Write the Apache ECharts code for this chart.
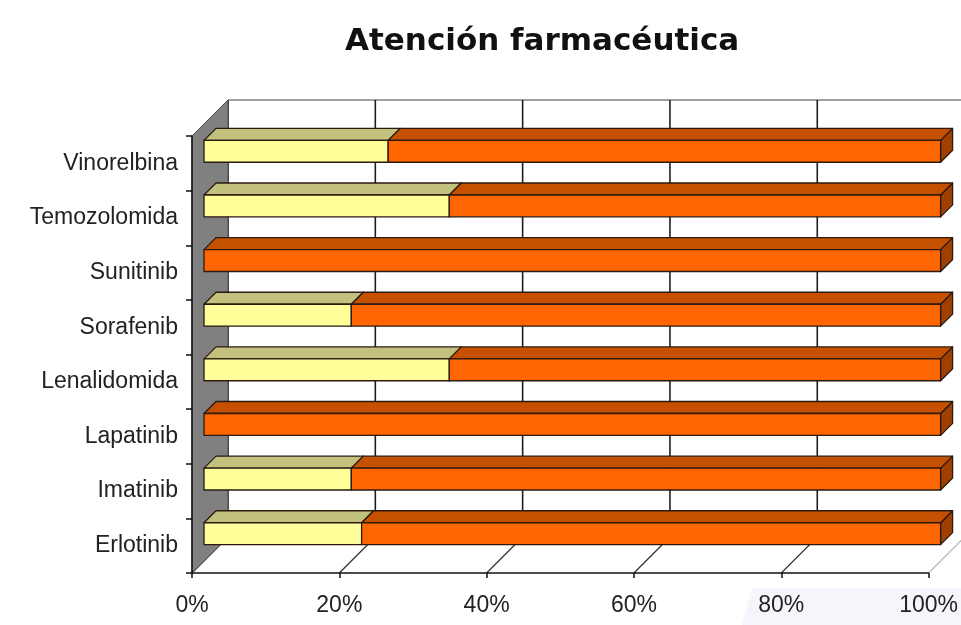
<!DOCTYPE html>
<html>
<head>
<meta charset="utf-8">
<script src="https://cdn.jsdelivr.net/npm/echarts@6/dist/echarts.min.js"></script>
<style>
html,body{margin:0;padding:0;background:#ffffff;}
#chart{width:961px;height:625px;}
</style>
</head>
<body>
<div id="chart"></div>
<script>
// ---- data ----
const categories = ['Erlotinib', 'Imatinib', 'Lapatinib', 'Lenalidomida', 'Sorafenib', 'Sunitinib', 'Temozolomida', 'Vinorelbina'];
const yellowValues = [21.4, 20, 0, 33.3, 20, 0, 33.3, 25];
const orangeValues = [78.6, 80, 100, 66.7, 80, 100, 66.7, 75];
const xTicks = [0, 20, 40, 60, 80, 100];
const titleText = 'Atención farmacéutica';

// ---- styling / 3D projection ----
const D = 36;      // full depth offset in px
const DB = 12;     // bar front depth
const DBW = 12;    // bar thickness in depth
const EDGE = '#2b1a10';

const yellowData = categories.map((c, i) => [i, 0, yellowValues[i]]);
const orangeData = categories.map((c, i) => [i, yellowValues[i], yellowValues[i] + orangeValues[i]]);

function renderWalls(params, api) {
  const cs = params.coordSys;
  const x = cs.x, y = cs.y, w = cs.width, h = cs.height;
  const ch = [];
  // back wall
  ch.push({type: 'polygon', shape: {points: [[x + D, y - D], [x + w + D, y - D], [x + w + D, y + h - D], [x + D, y + h - D]]},
    style: {fill: '#ffffff'}});
  ch.push({type: 'line', shape: {x1: x + D, y1: y - D, x2: x + w + D, y2: y - D}, style: {stroke: '#a0a0a0', lineWidth: 2}});
  xTicks.forEach(v => {
    const px = api.coord([v, 0])[0];
    ch.push({type: 'line', shape: {x1: px + D, y1: y - D, x2: px + D, y2: y + h - D}, style: {stroke: '#1e1e1e', lineWidth: 1.6}});
  });
  // floor
  ch.push({type: 'polygon', shape: {points: [[x, y + h], [x + w, y + h], [x + w + D, y + h - D], [x + D, y + h - D]]},
    style: {fill: '#ffffff'}});
  xTicks.forEach((v, k) => {
    const px = api.coord([v, 0])[0];
    ch.push({type: 'line', shape: {x1: px, y1: y + h, x2: px + D, y2: y + h - D},
      style: {stroke: k === xTicks.length - 1 ? '#b8b8b8' : '#333333', lineWidth: 1.2}});
  });
  // left wall
  ch.push({type: 'polygon', shape: {points: [[x, y], [x + D, y - D], [x + D, y + h - D], [x, y + h]]},
    style: {fill: '#808080', stroke: '#4a4a4a', lineWidth: 1}});
  return {type: 'group', children: ch};
}

function makeBarRenderer(front, top, side) {
  return function (params, api) {
    const idx = api.value(0), s = api.value(1), e = api.value(2);
    if (!(e - s > 0)) return null;
    const p0 = api.coord([s, idx]);
    const p1 = api.coord([e, idx]);
    const band = api.size([0, 1])[1];
    const bh = band * 0.4;
    const x0 = p0[0] + DB, x1 = p1[0] + DB, yc = p0[1] - DB;
    const yt = yc - bh / 2, yb = yc + bh / 2;
    const stroke = {stroke: EDGE, lineWidth: 1.3, lineJoin: 'round'};
    return {
      type: 'group',
      children: [
        {type: 'polygon', shape: {points: [[x1, yt], [x1 + DBW, yt - DBW], [x1 + DBW, yb - DBW], [x1, yb]]},
          style: Object.assign({fill: side}, stroke)},
        {type: 'polygon', shape: {points: [[x0, yt], [x0 + DBW, yt - DBW], [x1 + DBW, yt - DBW], [x1, yt]]},
          style: Object.assign({fill: top}, stroke)},
        {type: 'rect', shape: {x: x0, y: yt, width: x1 - x0, height: bh},
          style: Object.assign({fill: front}, stroke)}
      ]
    };
  };
}

const chart = echarts.init(document.getElementById('chart'), null, {renderer: 'canvas'});
const FONT = '"Liberation Sans", Arial, sans-serif';

chart.setOption({
  backgroundColor: '#ffffff',
  animation: false,
  graphic: [{
    type: 'polygon', z: -10, silent: true,
    shape: {points: [[742, 625], [752, 588], [961, 588], [961, 625]]},
    style: {fill: '#F4F6FB'}
  }],
  title: {
    text: titleText,
    left: 340,
    top: 21,
    textStyle: {fontFamily: '"DejaVu Sans", "Liberation Sans", sans-serif', fontWeight: 'bold', fontSize: 31, color: '#111111'}
  },
  grid: {left: 192, top: 136, width: 740, height: 437, containLabel: false},
  xAxis: {
    type: 'value', min: 0, max: 100, interval: 20, z: 10,
    axisLine: {show: true, lineStyle: {color: '#111111', width: 1.5}},
    axisTick: {show: true, length: 5, lineStyle: {color: '#111111', width: 1.5}},
    axisLabel: {formatter: '{value}%', margin: 21, fontFamily: FONT, fontSize: 23, color: '#222222'},
    splitLine: {show: false}
  },
  yAxis: {
    type: 'category', data: categories, z: 10,
    axisLine: {show: true, lineStyle: {color: '#111111', width: 1.5}},
    axisTick: {show: true, length: 6, alignWithLabel: false, lineStyle: {color: '#111111', width: 1.5}},
    axisLabel: {margin: 14, fontFamily: FONT, fontSize: 23, color: '#222222', padding: [4, 0, 0, 0]},
    splitLine: {show: false}
  },
  series: [
    {
      type: 'custom', name: 'walls', silent: true, z: 1,
      renderItem: renderWalls,
      data: [[0, 0, 0]],
      encode: {y: 0, x: [1, 2]}
    },
    {
      type: 'custom', name: 'Sí', silent: true, z: 2,
      renderItem: makeBarRenderer('#FFFF99', '#C2C27E', '#A8A860'),
      data: yellowData,
      encode: {y: 0, x: [1, 2]}
    },
    {
      type: 'custom', name: 'No', silent: true, z: 3,
      renderItem: makeBarRenderer('#FF6600', '#C45000', '#A04000'),
      data: orangeData,
      encode: {y: 0, x: [1, 2]}
    }
  ]
});
</script>
</body>
</html>
